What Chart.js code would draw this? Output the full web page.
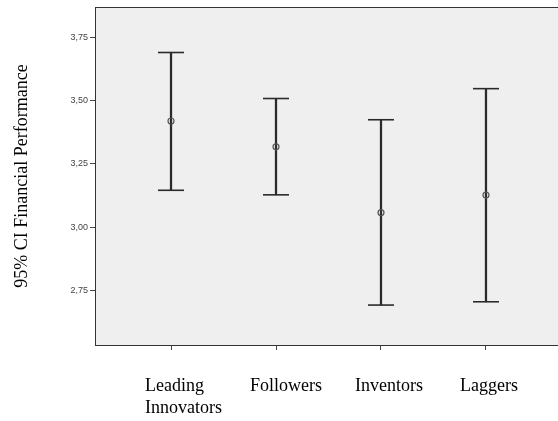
<!DOCTYPE html>
<html>
<head>
<meta charset="utf-8">
<script src="https://cdn.jsdelivr.net/npm/chart.js@4.4.1/dist/chart.umd.min.js"></script>
<style>
  html, body { margin: 0; padding: 0; background: #ffffff; }
  #wrap { width: 558px; height: 421px; }
</style>
</head>
<body>
<div id="wrap"><canvas id="c" width="558" height="421"></canvas></div>
<script>
// Groups and their 95% confidence intervals of financial performance
const categories = [['Leading', 'Innovators'], 'Followers', 'Inventors', 'Laggers'];
const means = [3.420, 3.318, 3.058, 3.127];
const lower = [3.146, 3.128, 2.692, 2.705];
const upper = [3.691, 3.509, 3.425, 3.548];
const yTicks = [2.75, 3.00, 3.25, 3.50, 3.75];
const yTitle = '95% CI Financial Performance';

const positions = categories.map((_, i) => i + 1);
const fmt = v => v.toFixed(2).replace('.', ',');

// light grey plot panel with a rule along its top edge
const plotBackground = {
  id: 'plotBackground',
  beforeDraw(chart) {
    const { ctx, chartArea: a } = chart;
    ctx.save();
    ctx.fillStyle = '#efefef';
    ctx.fillRect(a.left, a.top, a.right - a.left, a.bottom - a.top);
    ctx.strokeStyle = '#333333';
    ctx.lineWidth = 1;
    ctx.beginPath();
    ctx.moveTo(a.left, a.top + 0.5);
    ctx.lineTo(a.right, a.top + 0.5);
    ctx.stroke();
    ctx.restore();
  }
};

new Chart(document.getElementById('c'), {
  type: 'bar',
  data: {
    datasets: [
      {
        // vertical whiskers from lower to upper bound
        type: 'bar',
        data: positions.map((x, i) => ({ x, y: [lower[i], upper[i]] })),
        backgroundColor: '#2a2a2a',
        barThickness: 1.6,
        order: 3
      },
      {
        // upper caps
        type: 'scatter',
        data: positions.map((x, i) => ({ x, y: upper[i] })),
        pointStyle: 'line',
        pointRadius: 13,
        borderColor: '#2a2a2a',
        borderWidth: 1.6,
        order: 2
      },
      {
        // lower caps
        type: 'scatter',
        data: positions.map((x, i) => ({ x, y: lower[i] })),
        pointStyle: 'line',
        pointRadius: 13,
        borderColor: '#2a2a2a',
        borderWidth: 1.6,
        order: 2
      },
      {
        // means
        type: 'scatter',
        data: positions.map((x, i) => ({ x, y: means[i] })),
        pointStyle: 'circle',
        pointRadius: 3,
        borderColor: '#555555',
        backgroundColor: 'rgba(0,0,0,0)',
        borderWidth: 1.2,
        order: 1
      }
    ]
  },
  options: {
    responsive: false,
    animation: false,
    events: [],
    layout: { autoPadding: false, padding: { top: 7, right: 0, left: 0, bottom: 0 } },
    plugins: { legend: { display: false }, tooltip: { enabled: false } },
    scales: {
      x: {
        type: 'linear',
        offset: false,
        min: 0.276,
        max: 4.686,
        afterFit(scale) {
          scale.height = 76;
          scale.paddingLeft = 0;
          scale.paddingRight = 0;
        },
        afterBuildTicks(scale) { scale.ticks = positions.map(v => ({ value: v })); },
        grid: { offset: false, drawOnChartArea: false, tickLength: 5, color: '#444444', tickWidth: 1 },
        border: { display: true, color: '#333333', width: 1 },
        ticks: {
          autoSkip: false,
          maxRotation: 0,
          align: 'start',
          labelOffset: -26,
          padding: 25,
          color: '#000000',
          font: { family: '"Liberation Serif", "Times New Roman", serif', size: 18, lineHeight: '22px' },
          callback: (v) => categories[Math.round(v) - 1]
        }
      },
      y: {
        type: 'linear',
        min: 2.534,
        max: 3.871,
        afterFit(scale) {
          scale.width = 95;
          scale.paddingTop = 0;
          scale.paddingBottom = 0;
        },
        afterBuildTicks(scale) { scale.ticks = yTicks.map(v => ({ value: v })); },
        grid: { drawOnChartArea: false, tickLength: 5, color: '#444444', tickWidth: 1 },
        border: { display: true, color: '#333333', width: 1 },
        ticks: {
          padding: 2,
          color: '#444444',
          font: { family: '"Liberation Sans", Arial, sans-serif', size: 9 },
          callback: (v) => fmt(v)
        },
        title: {
          display: true,
          text: yTitle,
          color: '#000000',
          padding: { top: 11, bottom: 0 },
          font: { family: '"Liberation Serif", "Times New Roman", serif', size: 18, weight: 'normal' }
        }
      }
    }
  },
  plugins: [plotBackground]
});
</script>
</body>
</html>
